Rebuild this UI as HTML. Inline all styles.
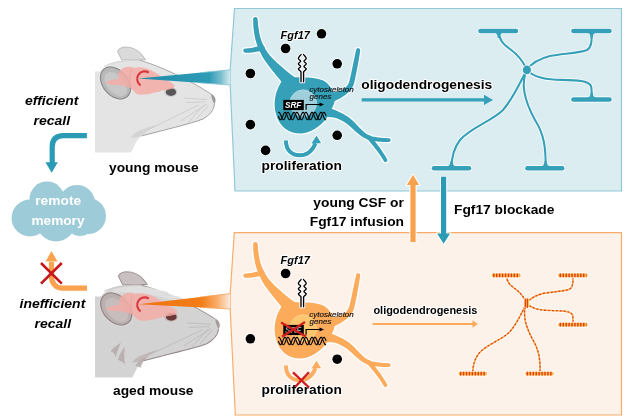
<!DOCTYPE html>
<html><head><meta charset="utf-8"><title>Fgf17 diagram</title>
<style>html,body{margin:0;padding:0;background:#fff;width:627px;height:416px;overflow:hidden}</style>
</head><body>
<svg width="627" height="416" viewBox="0 0 627 416" style="display:block;will-change:transform">
<defs>
<linearGradient id="gb" x1="138" y1="0" x2="230.5" y2="0" gradientUnits="userSpaceOnUse">
<stop offset="0" stop-color="#1d8ba8"/><stop offset="0.77" stop-color="#2e9cb7"/><stop offset="0.9" stop-color="#7cbfcf"/><stop offset="1" stop-color="#d8ecf1"/></linearGradient>
<linearGradient id="go" x1="138" y1="0" x2="231" y2="0" gradientUnits="userSpaceOnUse">
<stop offset="0" stop-color="#ef7410"/><stop offset="0.68" stop-color="#f37d16"/><stop offset="0.85" stop-color="#f8ac68"/><stop offset="1" stop-color="#fdf0e6"/></linearGradient>
</defs>
<rect width="627" height="416" fill="#fff"/>
<path d="M234.5,8.5 L621.5,8.5 L621.5,191 L235,191 L230.2,85 L230.2,69.8 Z" fill="#dbedf1" stroke="#91c8d6" stroke-width="1.2"/>
<path d="M234.3,232.7 L621.5,232.7 L621.5,415 L235.3,415 L230.2,309 L230.2,293.6 Z" fill="#fdf2ea" stroke="#f6ad6c" stroke-width="1.2"/>
<g transform="translate(95,0.0) scale(1.000,1) translate(-95,0)"><path d="M117.6,51.4 C119,48 122,47.2 125,47 C133,47.2 139,51 142,55 L145.4,59.6 L121.8,60 Z" fill="#dadada" stroke="#c0c0c0" stroke-width="1.1"/><path d="M95,71.6 L101.5,71.6 C103,67.5 109,63.5 118,61.2 C126,59.8 134,59.8 140,60.3 C160,66 190,80 211,94 C215,97 216,101 214.4,104 C214,110 210,115 203,119 C190,124 160,131 141.7,135.9 C139,137.5 137,140 134.1,146.5 L131,152.6 L95,152.6 Z" fill="#e4e4e4"/><path d="M104,66.5 C110,62.5 124,60 140,60.3" fill="none" stroke="#cfcfcf" stroke-width="0.9"/><path d="M140,60.3 C160,66 190,80 211,94" fill="none" stroke="#a2a2a2" stroke-width="0.9"/><path d="M214.4,104 C214,110 210,115 203,119 C190,124 160,131 141.7,135.9" fill="none" stroke="#a2a2a2" stroke-width="1"/><path d="M130.5,137.6 C134,133 138,131 142,129.6 C146,128 150,126.6 156,125.2 C150,128.5 146,131.5 141.7,135.9 C139.5,136.8 136,137.4 130.5,137.6 Z" fill="#d4d4d4"/><g stroke="#c4c4c4" stroke-width="0.7" fill="none"><path d="M206.8,104.0 L181.0,120.8"/><path d="M203.8,104.8 L188.6,122.3"/><path d="M199.2,104.8 L147.7,129.8"/><path d="M208.3,105.6 L196.2,119.2"/><path d="M205.3,101.8 L185.6,102.6"/><path d="M206.8,99.5 L184.0,98.0"/></g><path d="M211,93.8 C215,95.5 216.8,100 214.6,104.2 C212.6,101.5 211.5,98 211,93.8 Z" fill="#9a9a9a"/><ellipse cx="170.8" cy="92" rx="6.6" ry="4.9" fill="#cdcdcd"/><ellipse cx="171.0" cy="92.1" rx="5.2" ry="3.8" fill="#575757"/><g transform="rotate(50 115.5 83)"><ellipse cx="115.5" cy="83" rx="19.6" ry="14.2" fill="#eeeeee"/><ellipse cx="115.5" cy="83" rx="18" ry="12.6" fill="#b9b9b9" stroke="#8e8e8e" stroke-width="1.3"/><ellipse cx="116.5" cy="83.5" rx="14" ry="8.6" fill="#c8c8c8"/></g><path d="M106.4,82 C108,80.5 113,79.5 118.5,79 L118.5,73.5 C119.5,69.5 124,67 128.2,66.8 C131,66.8 133,67.5 134.3,68 C137,67.2 140,67.2 143,67.8 C150,69 156,72.9 161,76.5 C165,79 170,81 174.3,85 C174.5,87.5 173,88.5 171.9,88.7 C168,90 165,90.3 162.2,90.5 C160,91.5 158,92 156,92.3 C152,93.5 146,94.8 140.4,94.7 C137.5,94.5 136,93.5 135.5,92.9 C133.5,91 132,89.5 130.7,88 C128,87.5 126,86.6 124.6,86.2 C122,85.8 120.5,85.2 119.8,85 C117,85.2 114.5,85.1 112.5,85 C110,84.7 108,84 106.4,83.2 Z" fill="#f3aca6" opacity="0.85"/><path d="M131,68.5 C129,75 129.5,84 131.5,88.5" fill="none" stroke="#eaa09b" stroke-width="0.8" opacity="0.8"/></g>
<path d="M138.5,78.6 L230.2,69.8 L230.2,85.0 Z" fill="url(#gb)"/><path d="M200,72.70 L230.2,69.8 M200,82.89 L230.2,85.0" stroke="#86c3d2" stroke-width="1" opacity="0.8"/>
<path d="M148.8,72.6 A7,7 0 1 0 140.6,85.3" fill="none" stroke="#d8353a" stroke-width="2"/>
<g transform="translate(95,224.8) scale(1.035,1) translate(-95,0)"><path d="M117.6,51.4 C119,48 122,47.2 125,47 C133,47.2 139,51 142,55 L145.4,59.6 L121.8,60 Z" fill="#c9c1c1" stroke="#a49696" stroke-width="1.1"/><path d="M95,71.6 L101.5,71.6 C103,67.5 109,63.5 118,61.2 C126,59.8 134,59.8 140,60.3 C160,66 190,80 211,94 C215,97 216,101 214.4,104 C214,110 210,115 203,119 C190,124 160,131 141.7,135.9 C139,137.5 137,140 134.1,146.5 L131,152.6 L95,152.6 Z" fill="#d3d3d3"/><path d="M104,66.5 C110,62.5 124,60 140,60.3" fill="none" stroke="#c9c3c3" stroke-width="0.9"/><path d="M140,60.3 C160,66 190,80 211,94" fill="none" stroke="#938888" stroke-width="0.9"/><path d="M214.4,104 C214,110 210,115 203,119 C190,124 160,131 141.7,135.9" fill="none" stroke="#938888" stroke-width="1"/><path d="M130.5,137.6 C134,133 138,131 142,129.6 C146,128 150,126.6 156,125.2 C150,128.5 146,131.5 141.7,135.9 C139.5,136.8 136,137.4 130.5,137.6 Z" fill="#c2b9b9"/><g stroke="#b9b3b3" stroke-width="0.7" fill="none"><path d="M206.8,104.0 L181.0,120.8"/><path d="M203.8,104.8 L188.6,122.3"/><path d="M199.2,104.8 L147.7,129.8"/><path d="M208.3,105.6 L196.2,119.2"/><path d="M205.3,101.8 L185.6,102.6"/><path d="M206.8,99.5 L184.0,98.0"/></g><path d="M211,93.8 C215,95.5 216.8,100 214.6,104.2 C212.6,101.5 211.5,98 211,93.8 Z" fill="#a99a9a"/><ellipse cx="168.5" cy="92" rx="6.6" ry="4.9" fill="#c4b6b6"/><ellipse cx="168.7" cy="92.1" rx="5.2" ry="3.8" fill="#6a3838"/><path d="M112,64.5 C125,61 140,60.6 150,63.2 C165,67.5 180,74 192,80.5 L188,82.5 C175,77 160,72 145,69.5 C132,67.5 120,67.5 112,68 Z" fill="#e0e0e0" opacity="0.9"/><g fill="#b9adad" opacity="0.9"><path d="M110,352 C113,347 117,345 120,343 C118,348 116,352 115,358 C114,353 112,352 110,352 Z" transform="translate(0,-225)"/><path d="M117,360 C119,354 121,350 124,347 C123,353 123,358 124,365 C122,362 119,361 117,360 Z" transform="translate(0,-225)"/><path d="M134,366 C137,361 141,358 146,357 C142,361 140,364 139,368 Z" transform="translate(0,-225)"/><path d="M165,297 C170,296 176,297 182,300" fill="none" stroke="#e2e2e2" stroke-width="1.4" transform="translate(0,-225)"/><path d="M150,292 C156,290.5 161,291 166,293" fill="none" stroke="#e2e2e2" stroke-width="1.4" transform="translate(0,-225)"/></g><g transform="translate(0,1.2)"><g transform="rotate(50 115.5 83)"><ellipse cx="115.5" cy="83" rx="19.6" ry="14.2" fill="#dcdcdc"/><ellipse cx="115.5" cy="83" rx="18" ry="12.6" fill="#bbb0b0" stroke="#998888" stroke-width="1.3"/><ellipse cx="116.5" cy="83.5" rx="14" ry="8.6" fill="#c7bdbd"/></g><path d="M106.4,82 C108,80.5 113,79.5 118.5,79 L118.5,73.5 C119.5,69.5 124,67 128.2,66.8 C131,66.8 133,67.5 134.3,68 C137,67.2 140,67.2 143,67.8 C150,69 156,72.9 161,76.5 C165,79 170,81 174.3,85 C174.5,87.5 173,88.5 171.9,88.7 C168,90 165,90.3 162.2,90.5 C160,91.5 158,92 156,92.3 C152,93.5 146,94.8 140.4,94.7 C137.5,94.5 136,93.5 135.5,92.9 C133.5,91 132,89.5 130.7,88 C128,87.5 126,86.6 124.6,86.2 C122,85.8 120.5,85.2 119.8,85 C117,85.2 114.5,85.1 112.5,85 C110,84.7 108,84 106.4,83.2 Z" fill="#f3aca6" opacity="0.85"/><path d="M131,68.5 C129,75 129.5,84 131.5,88.5" fill="none" stroke="#eaa09b" stroke-width="0.8" opacity="0.8"/></g></g>
<path d="M139.0,304.2 L230.2,293.6 L230.2,309.0 Z" fill="url(#go)"/><path d="M200,297.11 L230.2,293.6 M200,307.41 L230.2,309.0" stroke="#f5a35a" stroke-width="1" opacity="0.8"/>
<path d="M148.8,298.6 A7,7 0 1 0 140.6,311.3" fill="none" stroke="#d8353a" stroke-width="2"/>
<g><g fill="#ffffff" stroke="#ffffff" stroke-width="2.4" stroke-linejoin="round"><path d="M253.10,19.33L253.13,19.99L253.15,20.86L253.17,21.92L253.20,23.11L253.25,24.38L253.31,25.70L253.40,27.03L253.52,28.30L253.66,29.54L253.82,30.81L254.00,32.11L254.20,33.43L254.43,34.75L254.67,36.08L254.94,37.39L255.24,38.67L255.55,39.90L255.88,41.11L256.23,42.30L256.61,43.48L257.00,44.66L257.43,45.83L257.88,47.01L258.36,48.20L258.87,49.41L259.40,50.62L259.97,51.84L260.56,53.07L261.18,54.30L261.82,55.51L262.49,56.72L263.19,57.91L263.93,59.10L264.70,60.26L265.49,61.40L266.29,62.52L267.09,63.60L267.88,64.66L268.66,65.69L269.41,66.70L270.18,67.71L270.96,68.73L271.73,69.72L272.50,70.70L273.27,71.65L274.02,72.59L274.75,73.50L275.47,74.40L276.19,75.29L276.89,76.14L277.57,76.96L278.24,77.76L278.91,78.56L279.57,79.37L280.24,80.20L280.94,81.07L281.67,82.00L282.43,82.97L283.21,83.98L284.00,85.00L284.79,86.02L285.56,87.03L286.32,88.01L287.05,88.95L287.79,89.89L288.56,90.87L289.33,91.85L290.08,92.80L290.78,93.68L291.41,94.48L291.94,95.15L292.34,95.66A8.00,8.00 0 0 0 303.66,84.34L303.15,83.94L302.48,83.41L301.68,82.78L300.80,82.08L299.85,81.33L298.87,80.56L297.89,79.79L296.95,79.05L296.01,78.32L295.03,77.56L294.02,76.79L293.00,76.00L291.98,75.21L290.97,74.43L290.00,73.67L289.06,72.93L288.17,72.22L287.31,71.53L286.49,70.88L285.70,70.24L284.91,69.60L284.13,68.96L283.34,68.30L282.53,67.60L281.67,66.86L280.80,66.10L279.93,65.33L279.06,64.55L278.19,63.76L277.32,62.96L276.45,62.14L275.59,61.30L274.70,60.42L273.80,59.53L272.90,58.63L272.02,57.73L271.16,56.83L270.34,55.92L269.55,55.01L268.81,54.09L268.09,53.13L267.38,52.13L266.69,51.10L266.03,50.05L265.39,48.99L264.77,47.93L264.19,46.86L263.64,45.80L263.13,44.75L262.65,43.71L262.21,42.68L261.79,41.64L261.41,40.59L261.04,39.53L260.69,38.44L260.36,37.33L260.06,36.19L259.77,35.01L259.51,33.79L259.27,32.55L259.05,31.31L258.84,30.07L258.66,28.86L258.48,27.70L258.33,26.54L258.19,25.32L258.08,24.07L257.97,22.84L257.89,21.69L257.81,20.64L257.75,19.75L257.70,19.07A2.30,2.30 0 0 0 253.10,19.33Z"/><path d="M245.53,52.85L245.96,52.83L246.52,52.81L247.21,52.80L247.99,52.77L248.81,52.74L249.66,52.70L250.49,52.65L251.28,52.58L252.03,52.50L252.76,52.41L253.48,52.31L254.20,52.21L254.91,52.09L255.62,51.98L256.32,51.86L257.02,51.75L257.78,51.62L258.58,51.47L259.41,51.32L260.22,51.18L260.98,51.03L261.67,50.91L262.23,50.80L262.66,50.72A2.80,2.80 0 0 0 261.34,45.28L260.92,45.40L260.36,45.58L259.70,45.78L258.97,46.00L258.20,46.23L257.42,46.46L256.67,46.67L255.98,46.85L255.31,47.03L254.64,47.19L253.97,47.35L253.31,47.51L252.66,47.65L252.01,47.79L251.36,47.91L250.72,48.02L250.04,48.11L249.29,48.20L248.51,48.28L247.72,48.35L246.97,48.42L246.29,48.47L245.71,48.52L245.27,48.55A2.15,2.15 0 0 0 245.53,52.85Z"/><path d="M356.14,49.71L355.95,50.58L355.70,51.72L355.41,53.07L355.08,54.59L354.72,56.21L354.36,57.89L354.00,59.59L353.64,61.24L353.29,62.94L352.93,64.76L352.55,66.65L352.17,68.56L351.78,70.46L351.40,72.28L351.03,73.99L350.66,75.55L350.32,76.99L350.00,78.33L349.71,79.56L349.42,80.69L349.12,81.71L348.81,82.64L348.45,83.48L348.05,84.27L347.60,85.01L347.10,85.70L346.56,86.36L345.98,86.98L345.35,87.58L344.68,88.15L343.96,88.69L343.23,89.20L342.51,89.64L341.77,90.02L341.00,90.36L340.18,90.67L339.34,90.96L338.45,91.23L337.54,91.48L336.63,91.71L335.73,91.90L334.82,92.05L333.88,92.17L332.91,92.28L331.91,92.37L330.90,92.46L329.87,92.54L328.88,92.63L327.87,92.71L326.79,92.77L325.66,92.84L324.53,92.90L323.44,92.96L322.46,93.01L321.60,93.05L320.94,93.09A6.00,6.00 0 0 0 323.06,104.91L323.64,104.73L324.42,104.49L325.38,104.21L326.47,103.89L327.64,103.53L328.83,103.16L330.02,102.77L331.12,102.37L332.14,101.98L333.15,101.57L334.18,101.15L335.22,100.70L336.27,100.23L337.32,99.74L338.36,99.22L339.37,98.69L340.32,98.16L341.26,97.63L342.20,97.07L343.14,96.49L344.07,95.87L345.00,95.22L345.90,94.53L346.77,93.80L347.58,93.07L348.37,92.34L349.17,91.56L349.96,90.73L350.72,89.84L351.45,88.88L352.13,87.85L352.75,86.73L353.28,85.56L353.71,84.38L354.08,83.18L354.39,81.96L354.67,80.72L354.95,79.43L355.23,78.09L355.54,76.65L355.89,75.05L356.25,73.29L356.62,71.43L356.99,69.51L357.36,67.58L357.71,65.68L358.05,63.86L358.36,62.16L358.65,60.49L358.94,58.77L359.22,57.06L359.49,55.41L359.73,53.88L359.94,52.52L360.12,51.37L360.26,50.49A2.10,2.10 0 0 0 356.14,49.71Z"/><path d="M316.46,116.83L317.74,116.86L319.47,116.89L321.50,116.91L323.73,116.94L326.01,116.99L328.23,117.07L330.23,117.19L331.90,117.35L333.30,117.56L334.55,117.80L335.67,118.07L336.68,118.37L337.62,118.70L338.54,119.07L339.48,119.47L340.46,119.92L341.45,120.40L342.41,120.92L343.35,121.48L344.27,122.07L345.20,122.70L346.13,123.37L347.08,124.07L348.03,124.79L348.99,125.56L349.99,126.41L351.03,127.33L352.08,128.29L353.13,129.26L354.18,130.23L355.20,131.15L356.18,131.99L357.07,132.74L357.89,133.43L358.69,134.09L359.48,134.72L360.25,135.32L361.04,135.90L361.84,136.46L362.66,136.99L363.44,137.47L364.20,137.92L364.97,138.34L365.76,138.75L366.58,139.12L367.44,139.47L368.37,139.80L369.36,140.10L370.43,140.38L371.56,140.63L372.72,140.85L373.91,141.04L375.12,141.22L376.34,141.37L377.56,141.51L378.77,141.64L380.07,141.75L381.48,141.84L382.93,141.91L384.36,141.96L385.72,142.01L386.94,142.04L387.95,142.07L388.70,142.10A1.90,1.90 0 0 0 388.90,138.30L388.13,138.25L387.10,138.19L385.90,138.12L384.56,138.04L383.16,137.94L381.77,137.83L380.43,137.70L379.23,137.56L378.07,137.40L376.90,137.24L375.75,137.05L374.61,136.86L373.52,136.64L372.49,136.41L371.52,136.16L370.64,135.90L369.85,135.61L369.13,135.32L368.48,135.01L367.87,134.68L367.27,134.32L366.66,133.93L366.02,133.49L365.34,133.01L364.69,132.52L364.06,132.00L363.42,131.45L362.77,130.86L362.10,130.22L361.39,129.53L360.63,128.79L359.82,128.01L358.99,127.17L358.10,126.24L357.16,125.22L356.17,124.16L355.15,123.08L354.10,122.01L353.04,120.97L351.97,120.01L350.94,119.14L349.92,118.33L348.89,117.56L347.85,116.81L346.80,116.10L345.73,115.41L344.64,114.73L343.54,114.08L342.45,113.47L341.38,112.92L340.30,112.40L339.20,111.89L338.05,111.39L336.84,110.86L335.54,110.29L334.10,109.65L332.39,108.89L330.42,108.01L328.30,107.08L326.15,106.12L324.08,105.20L322.21,104.37L320.66,103.68L319.54,103.17A7.00,7.00 0 0 0 316.46,116.83Z"/><path d="M367.30,138.89L367.81,139.51L368.51,140.34L369.33,141.32L370.24,142.40L371.19,143.54L372.14,144.68L373.04,145.78L373.84,146.79L374.58,147.73L375.31,148.67L376.02,149.59L376.72,150.51L377.40,151.42L378.06,152.32L378.71,153.23L379.35,154.12L379.99,155.06L380.66,156.07L381.33,157.11L381.99,158.14L382.61,159.12L383.16,159.99L383.63,160.74L383.99,161.30A1.90,1.90 0 0 0 387.21,159.30L386.88,158.74L386.43,157.99L385.90,157.10L385.30,156.10L384.65,155.03L383.98,153.95L383.31,152.88L382.65,151.88L382.01,150.93L381.36,149.98L380.70,149.03L380.02,148.08L379.33,147.12L378.62,146.16L377.90,145.19L377.16,144.21L376.35,143.16L375.45,142.01L374.51,140.83L373.57,139.66L372.68,138.56L371.87,137.56L371.20,136.73L370.70,136.11A2.20,2.20 0 0 0 367.30,138.89Z"/><path d="M283,79 C288,77 296,77.3 305,77.4 C314,77.5 322,78.5 327,83 C331,87 333,91 335,97 C335,101 334,105 331,110 C328,120 316,131.5 302,133.6 C288,134 279,126 276,114 C273,104 275,93 280,84 Z"/></g><g fill="#35a0b8"><path d="M253.10,19.33L253.13,19.99L253.15,20.86L253.17,21.92L253.20,23.11L253.25,24.38L253.31,25.70L253.40,27.03L253.52,28.30L253.66,29.54L253.82,30.81L254.00,32.11L254.20,33.43L254.43,34.75L254.67,36.08L254.94,37.39L255.24,38.67L255.55,39.90L255.88,41.11L256.23,42.30L256.61,43.48L257.00,44.66L257.43,45.83L257.88,47.01L258.36,48.20L258.87,49.41L259.40,50.62L259.97,51.84L260.56,53.07L261.18,54.30L261.82,55.51L262.49,56.72L263.19,57.91L263.93,59.10L264.70,60.26L265.49,61.40L266.29,62.52L267.09,63.60L267.88,64.66L268.66,65.69L269.41,66.70L270.18,67.71L270.96,68.73L271.73,69.72L272.50,70.70L273.27,71.65L274.02,72.59L274.75,73.50L275.47,74.40L276.19,75.29L276.89,76.14L277.57,76.96L278.24,77.76L278.91,78.56L279.57,79.37L280.24,80.20L280.94,81.07L281.67,82.00L282.43,82.97L283.21,83.98L284.00,85.00L284.79,86.02L285.56,87.03L286.32,88.01L287.05,88.95L287.79,89.89L288.56,90.87L289.33,91.85L290.08,92.80L290.78,93.68L291.41,94.48L291.94,95.15L292.34,95.66A8.00,8.00 0 0 0 303.66,84.34L303.15,83.94L302.48,83.41L301.68,82.78L300.80,82.08L299.85,81.33L298.87,80.56L297.89,79.79L296.95,79.05L296.01,78.32L295.03,77.56L294.02,76.79L293.00,76.00L291.98,75.21L290.97,74.43L290.00,73.67L289.06,72.93L288.17,72.22L287.31,71.53L286.49,70.88L285.70,70.24L284.91,69.60L284.13,68.96L283.34,68.30L282.53,67.60L281.67,66.86L280.80,66.10L279.93,65.33L279.06,64.55L278.19,63.76L277.32,62.96L276.45,62.14L275.59,61.30L274.70,60.42L273.80,59.53L272.90,58.63L272.02,57.73L271.16,56.83L270.34,55.92L269.55,55.01L268.81,54.09L268.09,53.13L267.38,52.13L266.69,51.10L266.03,50.05L265.39,48.99L264.77,47.93L264.19,46.86L263.64,45.80L263.13,44.75L262.65,43.71L262.21,42.68L261.79,41.64L261.41,40.59L261.04,39.53L260.69,38.44L260.36,37.33L260.06,36.19L259.77,35.01L259.51,33.79L259.27,32.55L259.05,31.31L258.84,30.07L258.66,28.86L258.48,27.70L258.33,26.54L258.19,25.32L258.08,24.07L257.97,22.84L257.89,21.69L257.81,20.64L257.75,19.75L257.70,19.07A2.30,2.30 0 0 0 253.10,19.33Z"/><path d="M245.53,52.85L245.96,52.83L246.52,52.81L247.21,52.80L247.99,52.77L248.81,52.74L249.66,52.70L250.49,52.65L251.28,52.58L252.03,52.50L252.76,52.41L253.48,52.31L254.20,52.21L254.91,52.09L255.62,51.98L256.32,51.86L257.02,51.75L257.78,51.62L258.58,51.47L259.41,51.32L260.22,51.18L260.98,51.03L261.67,50.91L262.23,50.80L262.66,50.72A2.80,2.80 0 0 0 261.34,45.28L260.92,45.40L260.36,45.58L259.70,45.78L258.97,46.00L258.20,46.23L257.42,46.46L256.67,46.67L255.98,46.85L255.31,47.03L254.64,47.19L253.97,47.35L253.31,47.51L252.66,47.65L252.01,47.79L251.36,47.91L250.72,48.02L250.04,48.11L249.29,48.20L248.51,48.28L247.72,48.35L246.97,48.42L246.29,48.47L245.71,48.52L245.27,48.55A2.15,2.15 0 0 0 245.53,52.85Z"/><path d="M356.14,49.71L355.95,50.58L355.70,51.72L355.41,53.07L355.08,54.59L354.72,56.21L354.36,57.89L354.00,59.59L353.64,61.24L353.29,62.94L352.93,64.76L352.55,66.65L352.17,68.56L351.78,70.46L351.40,72.28L351.03,73.99L350.66,75.55L350.32,76.99L350.00,78.33L349.71,79.56L349.42,80.69L349.12,81.71L348.81,82.64L348.45,83.48L348.05,84.27L347.60,85.01L347.10,85.70L346.56,86.36L345.98,86.98L345.35,87.58L344.68,88.15L343.96,88.69L343.23,89.20L342.51,89.64L341.77,90.02L341.00,90.36L340.18,90.67L339.34,90.96L338.45,91.23L337.54,91.48L336.63,91.71L335.73,91.90L334.82,92.05L333.88,92.17L332.91,92.28L331.91,92.37L330.90,92.46L329.87,92.54L328.88,92.63L327.87,92.71L326.79,92.77L325.66,92.84L324.53,92.90L323.44,92.96L322.46,93.01L321.60,93.05L320.94,93.09A6.00,6.00 0 0 0 323.06,104.91L323.64,104.73L324.42,104.49L325.38,104.21L326.47,103.89L327.64,103.53L328.83,103.16L330.02,102.77L331.12,102.37L332.14,101.98L333.15,101.57L334.18,101.15L335.22,100.70L336.27,100.23L337.32,99.74L338.36,99.22L339.37,98.69L340.32,98.16L341.26,97.63L342.20,97.07L343.14,96.49L344.07,95.87L345.00,95.22L345.90,94.53L346.77,93.80L347.58,93.07L348.37,92.34L349.17,91.56L349.96,90.73L350.72,89.84L351.45,88.88L352.13,87.85L352.75,86.73L353.28,85.56L353.71,84.38L354.08,83.18L354.39,81.96L354.67,80.72L354.95,79.43L355.23,78.09L355.54,76.65L355.89,75.05L356.25,73.29L356.62,71.43L356.99,69.51L357.36,67.58L357.71,65.68L358.05,63.86L358.36,62.16L358.65,60.49L358.94,58.77L359.22,57.06L359.49,55.41L359.73,53.88L359.94,52.52L360.12,51.37L360.26,50.49A2.10,2.10 0 0 0 356.14,49.71Z"/><path d="M316.46,116.83L317.74,116.86L319.47,116.89L321.50,116.91L323.73,116.94L326.01,116.99L328.23,117.07L330.23,117.19L331.90,117.35L333.30,117.56L334.55,117.80L335.67,118.07L336.68,118.37L337.62,118.70L338.54,119.07L339.48,119.47L340.46,119.92L341.45,120.40L342.41,120.92L343.35,121.48L344.27,122.07L345.20,122.70L346.13,123.37L347.08,124.07L348.03,124.79L348.99,125.56L349.99,126.41L351.03,127.33L352.08,128.29L353.13,129.26L354.18,130.23L355.20,131.15L356.18,131.99L357.07,132.74L357.89,133.43L358.69,134.09L359.48,134.72L360.25,135.32L361.04,135.90L361.84,136.46L362.66,136.99L363.44,137.47L364.20,137.92L364.97,138.34L365.76,138.75L366.58,139.12L367.44,139.47L368.37,139.80L369.36,140.10L370.43,140.38L371.56,140.63L372.72,140.85L373.91,141.04L375.12,141.22L376.34,141.37L377.56,141.51L378.77,141.64L380.07,141.75L381.48,141.84L382.93,141.91L384.36,141.96L385.72,142.01L386.94,142.04L387.95,142.07L388.70,142.10A1.90,1.90 0 0 0 388.90,138.30L388.13,138.25L387.10,138.19L385.90,138.12L384.56,138.04L383.16,137.94L381.77,137.83L380.43,137.70L379.23,137.56L378.07,137.40L376.90,137.24L375.75,137.05L374.61,136.86L373.52,136.64L372.49,136.41L371.52,136.16L370.64,135.90L369.85,135.61L369.13,135.32L368.48,135.01L367.87,134.68L367.27,134.32L366.66,133.93L366.02,133.49L365.34,133.01L364.69,132.52L364.06,132.00L363.42,131.45L362.77,130.86L362.10,130.22L361.39,129.53L360.63,128.79L359.82,128.01L358.99,127.17L358.10,126.24L357.16,125.22L356.17,124.16L355.15,123.08L354.10,122.01L353.04,120.97L351.97,120.01L350.94,119.14L349.92,118.33L348.89,117.56L347.85,116.81L346.80,116.10L345.73,115.41L344.64,114.73L343.54,114.08L342.45,113.47L341.38,112.92L340.30,112.40L339.20,111.89L338.05,111.39L336.84,110.86L335.54,110.29L334.10,109.65L332.39,108.89L330.42,108.01L328.30,107.08L326.15,106.12L324.08,105.20L322.21,104.37L320.66,103.68L319.54,103.17A7.00,7.00 0 0 0 316.46,116.83Z"/><path d="M367.30,138.89L367.81,139.51L368.51,140.34L369.33,141.32L370.24,142.40L371.19,143.54L372.14,144.68L373.04,145.78L373.84,146.79L374.58,147.73L375.31,148.67L376.02,149.59L376.72,150.51L377.40,151.42L378.06,152.32L378.71,153.23L379.35,154.12L379.99,155.06L380.66,156.07L381.33,157.11L381.99,158.14L382.61,159.12L383.16,159.99L383.63,160.74L383.99,161.30A1.90,1.90 0 0 0 387.21,159.30L386.88,158.74L386.43,157.99L385.90,157.10L385.30,156.10L384.65,155.03L383.98,153.95L383.31,152.88L382.65,151.88L382.01,150.93L381.36,149.98L380.70,149.03L380.02,148.08L379.33,147.12L378.62,146.16L377.90,145.19L377.16,144.21L376.35,143.16L375.45,142.01L374.51,140.83L373.57,139.66L372.68,138.56L371.87,137.56L371.20,136.73L370.70,136.11A2.20,2.20 0 0 0 367.30,138.89Z"/><path d="M283,79 C288,77 296,77.3 305,77.4 C314,77.5 322,78.5 327,83 C331,87 333,91 335,97 C335,101 334,105 331,110 C328,120 316,131.5 302,133.6 C288,134 279,126 276,114 C273,104 275,93 280,84 Z"/></g><circle cx="303.2" cy="103.2" r="13.4" fill="#9fcfdb" stroke="#c4e4ec" stroke-width="0.9" stroke-opacity="0.6"/></g>
<g fill="none" stroke-linecap="round" stroke-linejoin="round"><path d="M301.10,54.40 L300.75,54.85 L300.22,55.48 L299.61,56.22 L299.04,57.01 L298.60,57.76 L298.40,58.40 L298.53,58.94 L298.93,59.43 L299.47,59.89 L300.01,60.33 L300.43,60.76 L300.60,61.20 L300.44,61.64 L300.03,62.08 L299.50,62.51 L298.97,62.93 L298.56,63.36 L298.40,63.80 L298.56,64.25 L298.97,64.70 L299.50,65.16 L300.03,65.61 L300.44,66.06 L300.60,66.50 L300.43,66.93 L300.02,67.34 L299.49,67.76 L298.96,68.17 L298.55,68.58 L298.40,69.00 L298.56,69.43 L298.94,69.87 L299.45,70.32 L299.99,70.76 L300.47,71.19 L300.80,71.60 L300.96,71.92 L301.04,72.15 L301.05,72.36 L301.03,72.65 L301.00,73.10 L301.00,73.80 L301.01,74.89 L301.01,76.33 L301.01,77.94 L301.01,79.51 L301.00,80.86 L301.00,81.80" stroke="#fff" stroke-width="3.3"/><path d="M303.50,54.40 L303.85,54.85 L304.38,55.48 L304.99,56.22 L305.56,57.01 L306.00,57.76 L306.20,58.40 L306.07,58.94 L305.67,59.43 L305.13,59.89 L304.59,60.33 L304.17,60.76 L304.00,61.20 L304.16,61.64 L304.57,62.08 L305.10,62.51 L305.63,62.93 L306.04,63.36 L306.20,63.80 L306.04,64.25 L305.63,64.70 L305.10,65.16 L304.57,65.61 L304.16,66.06 L304.00,66.50 L304.17,66.93 L304.58,67.34 L305.11,67.76 L305.64,68.17 L306.05,68.58 L306.20,69.00 L306.04,69.43 L305.66,69.87 L305.15,70.32 L304.61,70.76 L304.13,71.19 L303.80,71.60 L303.64,71.92 L303.56,72.15 L303.55,72.36 L303.57,72.65 L303.60,73.10 L303.60,73.80 L303.59,74.89 L303.59,76.33 L303.59,77.94 L303.59,79.51 L303.60,80.86 L303.60,81.80" stroke="#fff" stroke-width="3.3"/><path d="M301.10,54.40 L300.75,54.85 L300.22,55.48 L299.61,56.22 L299.04,57.01 L298.60,57.76 L298.40,58.40 L298.53,58.94 L298.93,59.43 L299.47,59.89 L300.01,60.33 L300.43,60.76 L300.60,61.20 L300.44,61.64 L300.03,62.08 L299.50,62.51 L298.97,62.93 L298.56,63.36 L298.40,63.80 L298.56,64.25 L298.97,64.70 L299.50,65.16 L300.03,65.61 L300.44,66.06 L300.60,66.50 L300.43,66.93 L300.02,67.34 L299.49,67.76 L298.96,68.17 L298.55,68.58 L298.40,69.00 L298.56,69.43 L298.94,69.87 L299.45,70.32 L299.99,70.76 L300.47,71.19 L300.80,71.60 L300.96,71.92 L301.04,72.15 L301.05,72.36 L301.03,72.65 L301.00,73.10 L301.00,73.80 L301.01,74.89 L301.01,76.33 L301.01,77.94 L301.01,79.51 L301.00,80.86 L301.00,81.80" stroke="#000" stroke-width="1.35"/><path d="M303.50,54.40 L303.85,54.85 L304.38,55.48 L304.99,56.22 L305.56,57.01 L306.00,57.76 L306.20,58.40 L306.07,58.94 L305.67,59.43 L305.13,59.89 L304.59,60.33 L304.17,60.76 L304.00,61.20 L304.16,61.64 L304.57,62.08 L305.10,62.51 L305.63,62.93 L306.04,63.36 L306.20,63.80 L306.04,64.25 L305.63,64.70 L305.10,65.16 L304.57,65.61 L304.16,66.06 L304.00,66.50 L304.17,66.93 L304.58,67.34 L305.11,67.76 L305.64,68.17 L306.05,68.58 L306.20,69.00 L306.04,69.43 L305.66,69.87 L305.15,70.32 L304.61,70.76 L304.13,71.19 L303.80,71.60 L303.64,71.92 L303.56,72.15 L303.55,72.36 L303.57,72.65 L303.60,73.10 L303.60,73.80 L303.59,74.89 L303.59,76.33 L303.59,77.94 L303.59,79.51 L303.60,80.86 L303.60,81.80" stroke="#000" stroke-width="1.35"/></g>
<rect x="283.3" y="99.9" width="20.5" height="10.2" fill="#000"/><text x="285" y="108" font-family="Liberation Sans" font-size="8.2" font-weight="bold" font-style="italic" fill="#fff">SRF</text><path d="M306.1,109.8 V104.5 H320.5" fill="none" stroke="#000" stroke-width="1.2"/><path d="M319.5,102.4 L324,104.5 L319.5,106.6 Z" fill="#000"/><g fill="none" stroke="#000" stroke-width="1.1"><path d="M278.30,116.00 L278.55,116.64 L278.80,117.27 L279.05,117.85 L279.30,118.38 L279.55,118.83 L279.80,119.20 L280.05,119.48 L280.30,119.64 L280.55,119.70 L280.80,119.64 L281.05,119.48 L281.30,119.20 L281.55,118.83 L281.80,118.38 L282.05,117.85 L282.30,117.27 L282.55,116.64 L282.80,116.00 L283.05,115.36 L283.30,114.73 L283.55,114.15 L283.80,113.62 L284.05,113.17 L284.30,112.80 L284.55,112.52 L284.80,112.36 L285.05,112.30 L285.30,112.36 L285.55,112.52 L285.80,112.80 L286.05,113.17 L286.30,113.62 L286.55,114.15 L286.80,114.73 L287.05,115.36 L287.30,116.00 L287.55,116.64 L287.80,117.27 L288.05,117.85 L288.30,118.38 L288.55,118.83 L288.80,119.20 L289.05,119.48 L289.30,119.64 L289.55,119.70 L289.80,119.64 L290.05,119.48 L290.30,119.20 L290.55,118.83 L290.80,118.38 L291.05,117.85 L291.30,117.27 L291.55,116.64 L291.80,116.00 L292.05,115.36 L292.30,114.73 L292.55,114.15 L292.80,113.62 L293.05,113.17 L293.30,112.80 L293.55,112.52 L293.80,112.36 L294.05,112.30 L294.30,112.36 L294.55,112.52 L294.80,112.80 L295.05,113.17 L295.30,113.62 L295.55,114.15 L295.80,114.73 L296.05,115.36 L296.30,116.00 L296.55,116.64 L296.80,117.27 L297.05,117.85 L297.30,118.38 L297.55,118.83 L297.80,119.20 L298.05,119.48 L298.30,119.64 L298.55,119.70 L298.80,119.64 L299.05,119.48 L299.30,119.20 L299.55,118.83 L299.80,118.38 L300.05,117.85 L300.30,117.27 L300.55,116.64 L300.80,116.00 L301.05,115.36 L301.30,114.73 L301.55,114.15 L301.80,113.62 L302.05,113.17 L302.30,112.80 L302.55,112.52 L302.80,112.36 L303.05,112.30 L303.30,112.36 L303.55,112.52 L303.80,112.80 L304.05,113.17 L304.30,113.62 L304.55,114.15 L304.80,114.73 L305.05,115.36 L305.30,116.00 L305.55,116.64 L305.80,117.27 L306.05,117.85 L306.30,118.38 L306.55,118.83 L306.80,119.20 L307.05,119.48 L307.30,119.64 L307.55,119.70 L307.80,119.64 L308.05,119.48 L308.30,119.20 L308.55,118.83 L308.80,118.38 L309.05,117.85 L309.30,117.27 L309.55,116.64 L309.80,116.00 L310.05,115.36 L310.30,114.73 L310.55,114.15 L310.80,113.62 L311.05,113.17 L311.30,112.80 L311.55,112.52 L311.80,112.36 L312.05,112.30 L312.30,112.36 L312.55,112.52 L312.80,112.80 L313.05,113.17 L313.30,113.62 L313.55,114.15 L313.80,114.73 L314.05,115.36 L314.30,116.00 L314.55,116.64 L314.80,117.27 L315.05,117.85 L315.30,118.38 L315.55,118.83 L315.80,119.20 L316.05,119.48 L316.30,119.64 L316.55,119.70 L316.80,119.64 L317.05,119.48 L317.30,119.20 L317.55,118.83 L317.80,118.38 L318.05,117.85 L318.30,117.27 L318.55,116.64 L318.80,116.00 L319.05,115.36 L319.30,114.73 L319.55,114.15 L319.80,113.62 L320.05,113.17 L320.30,112.80 L320.55,112.52 L320.80,112.36 L321.05,112.30 L321.30,112.36 L321.55,112.52 L321.80,112.80 L322.05,113.17 L322.30,113.62 L322.55,114.15 L322.80,114.73 L323.05,115.36 L323.30,116.00 L323.55,116.64 L323.80,117.27 L324.05,117.85 L324.30,118.38 L324.55,118.83 L324.80,119.20 L325.05,119.48 L325.30,119.64 L325.55,119.70 L325.80,119.64 L326.05,119.48"/><path d="M278.30,112.64 L278.55,112.42 L278.80,112.31 L279.05,112.32 L279.30,112.43 L279.55,112.66 L279.80,112.98 L280.05,113.40 L280.30,113.90 L280.55,114.46 L280.80,115.07 L281.05,115.70 L281.30,116.35 L281.55,116.98 L281.80,117.59 L282.05,118.14 L282.30,118.63 L282.55,119.05 L282.80,119.36 L283.05,119.58 L283.30,119.69 L283.55,119.68 L283.80,119.57 L284.05,119.34 L284.30,119.02 L284.55,118.60 L284.80,118.10 L285.05,117.54 L285.30,116.93 L285.55,116.30 L285.80,115.65 L286.05,115.02 L286.30,114.41 L286.55,113.86 L286.80,113.37 L287.05,112.95 L287.30,112.64 L287.55,112.42 L287.80,112.31 L288.05,112.32 L288.30,112.43 L288.55,112.66 L288.80,112.98 L289.05,113.40 L289.30,113.90 L289.55,114.46 L289.80,115.07 L290.05,115.70 L290.30,116.35 L290.55,116.98 L290.80,117.59 L291.05,118.14 L291.30,118.63 L291.55,119.05 L291.80,119.36 L292.05,119.58 L292.30,119.69 L292.55,119.68 L292.80,119.57 L293.05,119.34 L293.30,119.02 L293.55,118.60 L293.80,118.10 L294.05,117.54 L294.30,116.93 L294.55,116.30 L294.80,115.65 L295.05,115.02 L295.30,114.41 L295.55,113.86 L295.80,113.37 L296.05,112.95 L296.30,112.64 L296.55,112.42 L296.80,112.31 L297.05,112.32 L297.30,112.43 L297.55,112.66 L297.80,112.98 L298.05,113.40 L298.30,113.90 L298.55,114.46 L298.80,115.07 L299.05,115.70 L299.30,116.35 L299.55,116.98 L299.80,117.59 L300.05,118.14 L300.30,118.63 L300.55,119.05 L300.80,119.36 L301.05,119.58 L301.30,119.69 L301.55,119.68 L301.80,119.57 L302.05,119.34 L302.30,119.02 L302.55,118.60 L302.80,118.10 L303.05,117.54 L303.30,116.93 L303.55,116.30 L303.80,115.65 L304.05,115.02 L304.30,114.41 L304.55,113.86 L304.80,113.37 L305.05,112.95 L305.30,112.64 L305.55,112.42 L305.80,112.31 L306.05,112.32 L306.30,112.43 L306.55,112.66 L306.80,112.98 L307.05,113.40 L307.30,113.90 L307.55,114.46 L307.80,115.07 L308.05,115.70 L308.30,116.35 L308.55,116.98 L308.80,117.59 L309.05,118.14 L309.30,118.63 L309.55,119.05 L309.80,119.36 L310.05,119.58 L310.30,119.69 L310.55,119.68 L310.80,119.57 L311.05,119.34 L311.30,119.02 L311.55,118.60 L311.80,118.10 L312.05,117.54 L312.30,116.93 L312.55,116.30 L312.80,115.65 L313.05,115.02 L313.30,114.41 L313.55,113.86 L313.80,113.37 L314.05,112.95 L314.30,112.64 L314.55,112.42 L314.80,112.31 L315.05,112.32 L315.30,112.43 L315.55,112.66 L315.80,112.98 L316.05,113.40 L316.30,113.90 L316.55,114.46 L316.80,115.07 L317.05,115.70 L317.30,116.35 L317.55,116.98 L317.80,117.59 L318.05,118.14 L318.30,118.63 L318.55,119.05 L318.80,119.36 L319.05,119.58 L319.30,119.69 L319.55,119.68 L319.80,119.57 L320.05,119.34 L320.30,119.02 L320.55,118.60 L320.80,118.10 L321.05,117.54 L321.30,116.93 L321.55,116.30 L321.80,115.65 L322.05,115.02 L322.30,114.41 L322.55,113.86 L322.80,113.37 L323.05,112.95 L323.30,112.64 L323.55,112.42 L323.80,112.31 L324.05,112.32 L324.30,112.43 L324.55,112.66 L324.80,112.98 L325.05,113.40 L325.30,113.90 L325.55,114.46 L325.80,115.07 L326.05,115.70"/></g><text x="309.3" y="92.1" font-family="Liberation Sans" font-size="8" font-style="italic" fill="#111" stroke="#111" stroke-width="0.15">cytoskeleton</text><text x="309.6" y="99.4" font-family="Liberation Sans" font-size="8" font-style="italic" fill="#111" stroke="#111" stroke-width="0.15">genes</text>
<circle cx="321.5" cy="33.8" r="5.6" fill="#fff"/><circle cx="321.5" cy="33.8" r="4.8" fill="#000"/><circle cx="285.6" cy="48.5" r="5.6" fill="#fff"/><circle cx="285.6" cy="48.5" r="4.8" fill="#000"/><circle cx="337.2" cy="63.8" r="5.6" fill="#fff"/><circle cx="337.2" cy="63.8" r="4.8" fill="#000"/><circle cx="250.4" cy="73.5" r="5.6" fill="#fff"/><circle cx="250.4" cy="73.5" r="4.8" fill="#000"/><circle cx="250.4" cy="124.6" r="5.6" fill="#fff"/><circle cx="250.4" cy="124.6" r="4.8" fill="#000"/><circle cx="265.6" cy="150.4" r="5.6" fill="#fff"/><circle cx="265.6" cy="150.4" r="4.8" fill="#000"/><circle cx="337.2" cy="135.3" r="5.6" fill="#fff"/><circle cx="337.2" cy="135.3" r="4.8" fill="#000"/>
<text transform="translate(280.60,38.80) scale(1.000,1)" font-family="Liberation Sans" font-size="11.00" font-weight="bold" font-style="italic" fill="#000" stroke="#fff" stroke-width="1.8" stroke-linejoin="round" paint-order="stroke">Fgf17</text>
<path d="M285.9,140.6 C285.9,150.5 292,155.3 299.5,155.3 C307.5,155.3 312.5,150.5 315.6,143.2" fill="none" stroke="#fff" stroke-width="5.8"/><path d="M311.4,143.6 L316.5,135.6 L321.2,143.2 Z" fill="#fff" stroke="#fff" stroke-width="1.8" stroke-linejoin="round"/><path d="M285.9,140.6 C285.9,150.5 292,155.3 299.5,155.3 C307.5,155.3 312.5,150.5 315.6,143.2" fill="none" stroke="#35a0b8" stroke-width="4.0"/><path d="M311.4,143.6 L316.5,135.6 L321.2,143.2 Z" fill="#35a0b8"/>
<text transform="translate(261.50,170.40) scale(1.045,1)" font-family="Liberation Sans" font-size="13.20" font-weight="bold" fill="#000" stroke="#fff" stroke-width="1.8" stroke-linejoin="round" paint-order="stroke">proliferation</text>
<text transform="translate(361.20,89.30) scale(1.045,1)" font-family="Liberation Sans" font-size="13.20" font-weight="bold" fill="#000" stroke="#fff" stroke-width="1.8" stroke-linejoin="round" paint-order="stroke">oligodendrogenesis</text>
<path d="M361.7,99.9 H486" stroke="#35a0b8" stroke-width="3.4"/><path d="M484,94.8 L493,99.9 L484,105 Z" fill="#35a0b8"/>
<g><g fill="none" stroke="#fff" stroke-width="3.6" stroke-linecap="round"><path d="M498.8,31 C499,40 503,44 510,49 C517,54 522,59 526.9,69.7"/><path d="M526.9,69.7 C531,64 538,59 550,56 C565,53.5 580,53 587,50 C592,47 591.7,40 591.7,31"/><path d="M526.9,69.7 C531,75 540,79 556,79.8 C575,80.3 588,80 591,86 C592,90 591.7,95 591.7,99.6"/><path d="M526.9,69.7 C521,80 515,96 503,110 C492,121 470,128 460,140 C453,149 451.5,158 451.5,168.2"/><path d="M526.9,69.7 C521,82 524,100 535,120 C544,134 546,148 545.6,168.2"/></g><g fill="none" stroke="#35a0b8" stroke-width="2.1" stroke-linecap="round"><path d="M498.8,31 C499,40 503,44 510,49 C517,54 522,59 526.9,69.7"/><path d="M526.9,69.7 C531,64 538,59 550,56 C565,53.5 580,53 587,50 C592,47 591.7,40 591.7,31"/><path d="M526.9,69.7 C531,75 540,79 556,79.8 C575,80.3 588,80 591,86 C592,90 591.7,95 591.7,99.6"/><path d="M526.9,69.7 C521,80 515,96 503,110 C492,121 470,128 460,140 C453,149 451.5,158 451.5,168.2"/><path d="M526.9,69.7 C521,82 524,100 535,120 C544,134 546,148 545.6,168.2"/></g><path d="M480.4,30.9 H516.0" stroke="#fff" stroke-width="6" stroke-linecap="round"/><path d="M573.4,30.9 H609.5" stroke="#fff" stroke-width="6" stroke-linecap="round"/><path d="M573.4,99.6 H609.5" stroke="#fff" stroke-width="6" stroke-linecap="round"/><path d="M434.0,168.2 H469.0" stroke="#fff" stroke-width="6" stroke-linecap="round"/><path d="M527.4,168.2 H562.2" stroke="#fff" stroke-width="6" stroke-linecap="round"/><path d="M480.4,30.9 H516.0" stroke="#35a0b8" stroke-width="4.5" stroke-linecap="round"/><path d="M573.4,30.9 H609.5" stroke="#35a0b8" stroke-width="4.5" stroke-linecap="round"/><path d="M573.4,99.6 H609.5" stroke="#35a0b8" stroke-width="4.5" stroke-linecap="round"/><path d="M434.0,168.2 H469.0" stroke="#35a0b8" stroke-width="4.5" stroke-linecap="round"/><path d="M527.4,168.2 H562.2" stroke="#35a0b8" stroke-width="4.5" stroke-linecap="round"/><path d="M493.80,32.85 Q497.75,32.85 497.75,38.05 L499.85,38.05 Q499.85,32.85 503.80,32.85 Z" fill="#35a0b8"/><path d="M586.70,32.85 Q590.65,32.85 590.65,38.05 L592.75,38.05 Q592.75,32.85 596.70,32.85 Z" fill="#35a0b8"/><path d="M586.70,97.65 Q590.65,97.65 590.65,92.45 L592.75,92.45 Q592.75,97.65 596.70,97.65 Z" fill="#35a0b8"/><path d="M446.50,166.25 Q450.45,166.25 450.45,161.05 L452.55,161.05 Q452.55,166.25 456.50,166.25 Z" fill="#35a0b8"/><path d="M540.60,166.25 Q544.55,166.25 544.55,161.05 L546.65,161.05 Q546.65,166.25 550.60,166.25 Z" fill="#35a0b8"/><ellipse cx="526.9" cy="69.9" rx="4.9" ry="5" fill="#fff"/><ellipse cx="526.9" cy="69.9" rx="4.1" ry="4.3" fill="#35a0b8"/></g>
<g transform="translate(0,225)">
<g><g fill="#ffffff" stroke="#ffffff" stroke-width="2.4" stroke-linejoin="round"><path d="M253.10,19.33L253.13,19.99L253.15,20.86L253.17,21.92L253.20,23.11L253.25,24.38L253.31,25.70L253.40,27.03L253.52,28.30L253.66,29.54L253.82,30.81L254.00,32.11L254.20,33.43L254.43,34.75L254.67,36.08L254.94,37.39L255.24,38.67L255.55,39.90L255.88,41.11L256.23,42.30L256.61,43.48L257.00,44.66L257.43,45.83L257.88,47.01L258.36,48.20L258.87,49.41L259.40,50.62L259.97,51.84L260.56,53.07L261.18,54.30L261.82,55.51L262.49,56.72L263.19,57.91L263.93,59.10L264.70,60.26L265.49,61.40L266.29,62.52L267.09,63.60L267.88,64.66L268.66,65.69L269.41,66.70L270.18,67.71L270.96,68.73L271.73,69.72L272.50,70.70L273.27,71.65L274.02,72.59L274.75,73.50L275.47,74.40L276.19,75.29L276.89,76.14L277.57,76.96L278.24,77.76L278.91,78.56L279.57,79.37L280.24,80.20L280.94,81.07L281.67,82.00L282.43,82.97L283.21,83.98L284.00,85.00L284.79,86.02L285.56,87.03L286.32,88.01L287.05,88.95L287.79,89.89L288.56,90.87L289.33,91.85L290.08,92.80L290.78,93.68L291.41,94.48L291.94,95.15L292.34,95.66A8.00,8.00 0 0 0 303.66,84.34L303.15,83.94L302.48,83.41L301.68,82.78L300.80,82.08L299.85,81.33L298.87,80.56L297.89,79.79L296.95,79.05L296.01,78.32L295.03,77.56L294.02,76.79L293.00,76.00L291.98,75.21L290.97,74.43L290.00,73.67L289.06,72.93L288.17,72.22L287.31,71.53L286.49,70.88L285.70,70.24L284.91,69.60L284.13,68.96L283.34,68.30L282.53,67.60L281.67,66.86L280.80,66.10L279.93,65.33L279.06,64.55L278.19,63.76L277.32,62.96L276.45,62.14L275.59,61.30L274.70,60.42L273.80,59.53L272.90,58.63L272.02,57.73L271.16,56.83L270.34,55.92L269.55,55.01L268.81,54.09L268.09,53.13L267.38,52.13L266.69,51.10L266.03,50.05L265.39,48.99L264.77,47.93L264.19,46.86L263.64,45.80L263.13,44.75L262.65,43.71L262.21,42.68L261.79,41.64L261.41,40.59L261.04,39.53L260.69,38.44L260.36,37.33L260.06,36.19L259.77,35.01L259.51,33.79L259.27,32.55L259.05,31.31L258.84,30.07L258.66,28.86L258.48,27.70L258.33,26.54L258.19,25.32L258.08,24.07L257.97,22.84L257.89,21.69L257.81,20.64L257.75,19.75L257.70,19.07A2.30,2.30 0 0 0 253.10,19.33Z"/><path d="M245.53,52.85L245.96,52.83L246.52,52.81L247.21,52.80L247.99,52.77L248.81,52.74L249.66,52.70L250.49,52.65L251.28,52.58L252.03,52.50L252.76,52.41L253.48,52.31L254.20,52.21L254.91,52.09L255.62,51.98L256.32,51.86L257.02,51.75L257.78,51.62L258.58,51.47L259.41,51.32L260.22,51.18L260.98,51.03L261.67,50.91L262.23,50.80L262.66,50.72A2.80,2.80 0 0 0 261.34,45.28L260.92,45.40L260.36,45.58L259.70,45.78L258.97,46.00L258.20,46.23L257.42,46.46L256.67,46.67L255.98,46.85L255.31,47.03L254.64,47.19L253.97,47.35L253.31,47.51L252.66,47.65L252.01,47.79L251.36,47.91L250.72,48.02L250.04,48.11L249.29,48.20L248.51,48.28L247.72,48.35L246.97,48.42L246.29,48.47L245.71,48.52L245.27,48.55A2.15,2.15 0 0 0 245.53,52.85Z"/><path d="M356.14,49.71L355.95,50.58L355.70,51.72L355.41,53.07L355.08,54.59L354.72,56.21L354.36,57.89L354.00,59.59L353.64,61.24L353.29,62.94L352.93,64.76L352.55,66.65L352.17,68.56L351.78,70.46L351.40,72.28L351.03,73.99L350.66,75.55L350.32,76.99L350.00,78.33L349.71,79.56L349.42,80.69L349.12,81.71L348.81,82.64L348.45,83.48L348.05,84.27L347.60,85.01L347.10,85.70L346.56,86.36L345.98,86.98L345.35,87.58L344.68,88.15L343.96,88.69L343.23,89.20L342.51,89.64L341.77,90.02L341.00,90.36L340.18,90.67L339.34,90.96L338.45,91.23L337.54,91.48L336.63,91.71L335.73,91.90L334.82,92.05L333.88,92.17L332.91,92.28L331.91,92.37L330.90,92.46L329.87,92.54L328.88,92.63L327.87,92.71L326.79,92.77L325.66,92.84L324.53,92.90L323.44,92.96L322.46,93.01L321.60,93.05L320.94,93.09A6.00,6.00 0 0 0 323.06,104.91L323.64,104.73L324.42,104.49L325.38,104.21L326.47,103.89L327.64,103.53L328.83,103.16L330.02,102.77L331.12,102.37L332.14,101.98L333.15,101.57L334.18,101.15L335.22,100.70L336.27,100.23L337.32,99.74L338.36,99.22L339.37,98.69L340.32,98.16L341.26,97.63L342.20,97.07L343.14,96.49L344.07,95.87L345.00,95.22L345.90,94.53L346.77,93.80L347.58,93.07L348.37,92.34L349.17,91.56L349.96,90.73L350.72,89.84L351.45,88.88L352.13,87.85L352.75,86.73L353.28,85.56L353.71,84.38L354.08,83.18L354.39,81.96L354.67,80.72L354.95,79.43L355.23,78.09L355.54,76.65L355.89,75.05L356.25,73.29L356.62,71.43L356.99,69.51L357.36,67.58L357.71,65.68L358.05,63.86L358.36,62.16L358.65,60.49L358.94,58.77L359.22,57.06L359.49,55.41L359.73,53.88L359.94,52.52L360.12,51.37L360.26,50.49A2.10,2.10 0 0 0 356.14,49.71Z"/><path d="M316.46,116.83L317.74,116.86L319.47,116.89L321.50,116.91L323.73,116.94L326.01,116.99L328.23,117.07L330.23,117.19L331.90,117.35L333.30,117.56L334.55,117.80L335.67,118.07L336.68,118.37L337.62,118.70L338.54,119.07L339.48,119.47L340.46,119.92L341.45,120.40L342.41,120.92L343.35,121.48L344.27,122.07L345.20,122.70L346.13,123.37L347.08,124.07L348.03,124.79L348.99,125.56L349.99,126.41L351.03,127.33L352.08,128.29L353.13,129.26L354.18,130.23L355.20,131.15L356.18,131.99L357.07,132.74L357.89,133.43L358.69,134.09L359.48,134.72L360.25,135.32L361.04,135.90L361.84,136.46L362.66,136.99L363.44,137.47L364.20,137.92L364.97,138.34L365.76,138.75L366.58,139.12L367.44,139.47L368.37,139.80L369.36,140.10L370.43,140.38L371.56,140.63L372.72,140.85L373.91,141.04L375.12,141.22L376.34,141.37L377.56,141.51L378.77,141.64L380.07,141.75L381.48,141.84L382.93,141.91L384.36,141.96L385.72,142.01L386.94,142.04L387.95,142.07L388.70,142.10A1.90,1.90 0 0 0 388.90,138.30L388.13,138.25L387.10,138.19L385.90,138.12L384.56,138.04L383.16,137.94L381.77,137.83L380.43,137.70L379.23,137.56L378.07,137.40L376.90,137.24L375.75,137.05L374.61,136.86L373.52,136.64L372.49,136.41L371.52,136.16L370.64,135.90L369.85,135.61L369.13,135.32L368.48,135.01L367.87,134.68L367.27,134.32L366.66,133.93L366.02,133.49L365.34,133.01L364.69,132.52L364.06,132.00L363.42,131.45L362.77,130.86L362.10,130.22L361.39,129.53L360.63,128.79L359.82,128.01L358.99,127.17L358.10,126.24L357.16,125.22L356.17,124.16L355.15,123.08L354.10,122.01L353.04,120.97L351.97,120.01L350.94,119.14L349.92,118.33L348.89,117.56L347.85,116.81L346.80,116.10L345.73,115.41L344.64,114.73L343.54,114.08L342.45,113.47L341.38,112.92L340.30,112.40L339.20,111.89L338.05,111.39L336.84,110.86L335.54,110.29L334.10,109.65L332.39,108.89L330.42,108.01L328.30,107.08L326.15,106.12L324.08,105.20L322.21,104.37L320.66,103.68L319.54,103.17A7.00,7.00 0 0 0 316.46,116.83Z"/><path d="M367.30,138.89L367.81,139.51L368.51,140.34L369.33,141.32L370.24,142.40L371.19,143.54L372.14,144.68L373.04,145.78L373.84,146.79L374.58,147.73L375.31,148.67L376.02,149.59L376.72,150.51L377.40,151.42L378.06,152.32L378.71,153.23L379.35,154.12L379.99,155.06L380.66,156.07L381.33,157.11L381.99,158.14L382.61,159.12L383.16,159.99L383.63,160.74L383.99,161.30A1.90,1.90 0 0 0 387.21,159.30L386.88,158.74L386.43,157.99L385.90,157.10L385.30,156.10L384.65,155.03L383.98,153.95L383.31,152.88L382.65,151.88L382.01,150.93L381.36,149.98L380.70,149.03L380.02,148.08L379.33,147.12L378.62,146.16L377.90,145.19L377.16,144.21L376.35,143.16L375.45,142.01L374.51,140.83L373.57,139.66L372.68,138.56L371.87,137.56L371.20,136.73L370.70,136.11A2.20,2.20 0 0 0 367.30,138.89Z"/><path d="M283,79 C288,77 296,77.3 305,77.4 C314,77.5 322,78.5 327,83 C331,87 333,91 335,97 C335,101 334,105 331,110 C328,120 316,131.5 302,133.6 C288,134 279,126 276,114 C273,104 275,93 280,84 Z"/></g><g fill="#fcab5b"><path d="M253.10,19.33L253.13,19.99L253.15,20.86L253.17,21.92L253.20,23.11L253.25,24.38L253.31,25.70L253.40,27.03L253.52,28.30L253.66,29.54L253.82,30.81L254.00,32.11L254.20,33.43L254.43,34.75L254.67,36.08L254.94,37.39L255.24,38.67L255.55,39.90L255.88,41.11L256.23,42.30L256.61,43.48L257.00,44.66L257.43,45.83L257.88,47.01L258.36,48.20L258.87,49.41L259.40,50.62L259.97,51.84L260.56,53.07L261.18,54.30L261.82,55.51L262.49,56.72L263.19,57.91L263.93,59.10L264.70,60.26L265.49,61.40L266.29,62.52L267.09,63.60L267.88,64.66L268.66,65.69L269.41,66.70L270.18,67.71L270.96,68.73L271.73,69.72L272.50,70.70L273.27,71.65L274.02,72.59L274.75,73.50L275.47,74.40L276.19,75.29L276.89,76.14L277.57,76.96L278.24,77.76L278.91,78.56L279.57,79.37L280.24,80.20L280.94,81.07L281.67,82.00L282.43,82.97L283.21,83.98L284.00,85.00L284.79,86.02L285.56,87.03L286.32,88.01L287.05,88.95L287.79,89.89L288.56,90.87L289.33,91.85L290.08,92.80L290.78,93.68L291.41,94.48L291.94,95.15L292.34,95.66A8.00,8.00 0 0 0 303.66,84.34L303.15,83.94L302.48,83.41L301.68,82.78L300.80,82.08L299.85,81.33L298.87,80.56L297.89,79.79L296.95,79.05L296.01,78.32L295.03,77.56L294.02,76.79L293.00,76.00L291.98,75.21L290.97,74.43L290.00,73.67L289.06,72.93L288.17,72.22L287.31,71.53L286.49,70.88L285.70,70.24L284.91,69.60L284.13,68.96L283.34,68.30L282.53,67.60L281.67,66.86L280.80,66.10L279.93,65.33L279.06,64.55L278.19,63.76L277.32,62.96L276.45,62.14L275.59,61.30L274.70,60.42L273.80,59.53L272.90,58.63L272.02,57.73L271.16,56.83L270.34,55.92L269.55,55.01L268.81,54.09L268.09,53.13L267.38,52.13L266.69,51.10L266.03,50.05L265.39,48.99L264.77,47.93L264.19,46.86L263.64,45.80L263.13,44.75L262.65,43.71L262.21,42.68L261.79,41.64L261.41,40.59L261.04,39.53L260.69,38.44L260.36,37.33L260.06,36.19L259.77,35.01L259.51,33.79L259.27,32.55L259.05,31.31L258.84,30.07L258.66,28.86L258.48,27.70L258.33,26.54L258.19,25.32L258.08,24.07L257.97,22.84L257.89,21.69L257.81,20.64L257.75,19.75L257.70,19.07A2.30,2.30 0 0 0 253.10,19.33Z"/><path d="M245.53,52.85L245.96,52.83L246.52,52.81L247.21,52.80L247.99,52.77L248.81,52.74L249.66,52.70L250.49,52.65L251.28,52.58L252.03,52.50L252.76,52.41L253.48,52.31L254.20,52.21L254.91,52.09L255.62,51.98L256.32,51.86L257.02,51.75L257.78,51.62L258.58,51.47L259.41,51.32L260.22,51.18L260.98,51.03L261.67,50.91L262.23,50.80L262.66,50.72A2.80,2.80 0 0 0 261.34,45.28L260.92,45.40L260.36,45.58L259.70,45.78L258.97,46.00L258.20,46.23L257.42,46.46L256.67,46.67L255.98,46.85L255.31,47.03L254.64,47.19L253.97,47.35L253.31,47.51L252.66,47.65L252.01,47.79L251.36,47.91L250.72,48.02L250.04,48.11L249.29,48.20L248.51,48.28L247.72,48.35L246.97,48.42L246.29,48.47L245.71,48.52L245.27,48.55A2.15,2.15 0 0 0 245.53,52.85Z"/><path d="M356.14,49.71L355.95,50.58L355.70,51.72L355.41,53.07L355.08,54.59L354.72,56.21L354.36,57.89L354.00,59.59L353.64,61.24L353.29,62.94L352.93,64.76L352.55,66.65L352.17,68.56L351.78,70.46L351.40,72.28L351.03,73.99L350.66,75.55L350.32,76.99L350.00,78.33L349.71,79.56L349.42,80.69L349.12,81.71L348.81,82.64L348.45,83.48L348.05,84.27L347.60,85.01L347.10,85.70L346.56,86.36L345.98,86.98L345.35,87.58L344.68,88.15L343.96,88.69L343.23,89.20L342.51,89.64L341.77,90.02L341.00,90.36L340.18,90.67L339.34,90.96L338.45,91.23L337.54,91.48L336.63,91.71L335.73,91.90L334.82,92.05L333.88,92.17L332.91,92.28L331.91,92.37L330.90,92.46L329.87,92.54L328.88,92.63L327.87,92.71L326.79,92.77L325.66,92.84L324.53,92.90L323.44,92.96L322.46,93.01L321.60,93.05L320.94,93.09A6.00,6.00 0 0 0 323.06,104.91L323.64,104.73L324.42,104.49L325.38,104.21L326.47,103.89L327.64,103.53L328.83,103.16L330.02,102.77L331.12,102.37L332.14,101.98L333.15,101.57L334.18,101.15L335.22,100.70L336.27,100.23L337.32,99.74L338.36,99.22L339.37,98.69L340.32,98.16L341.26,97.63L342.20,97.07L343.14,96.49L344.07,95.87L345.00,95.22L345.90,94.53L346.77,93.80L347.58,93.07L348.37,92.34L349.17,91.56L349.96,90.73L350.72,89.84L351.45,88.88L352.13,87.85L352.75,86.73L353.28,85.56L353.71,84.38L354.08,83.18L354.39,81.96L354.67,80.72L354.95,79.43L355.23,78.09L355.54,76.65L355.89,75.05L356.25,73.29L356.62,71.43L356.99,69.51L357.36,67.58L357.71,65.68L358.05,63.86L358.36,62.16L358.65,60.49L358.94,58.77L359.22,57.06L359.49,55.41L359.73,53.88L359.94,52.52L360.12,51.37L360.26,50.49A2.10,2.10 0 0 0 356.14,49.71Z"/><path d="M316.46,116.83L317.74,116.86L319.47,116.89L321.50,116.91L323.73,116.94L326.01,116.99L328.23,117.07L330.23,117.19L331.90,117.35L333.30,117.56L334.55,117.80L335.67,118.07L336.68,118.37L337.62,118.70L338.54,119.07L339.48,119.47L340.46,119.92L341.45,120.40L342.41,120.92L343.35,121.48L344.27,122.07L345.20,122.70L346.13,123.37L347.08,124.07L348.03,124.79L348.99,125.56L349.99,126.41L351.03,127.33L352.08,128.29L353.13,129.26L354.18,130.23L355.20,131.15L356.18,131.99L357.07,132.74L357.89,133.43L358.69,134.09L359.48,134.72L360.25,135.32L361.04,135.90L361.84,136.46L362.66,136.99L363.44,137.47L364.20,137.92L364.97,138.34L365.76,138.75L366.58,139.12L367.44,139.47L368.37,139.80L369.36,140.10L370.43,140.38L371.56,140.63L372.72,140.85L373.91,141.04L375.12,141.22L376.34,141.37L377.56,141.51L378.77,141.64L380.07,141.75L381.48,141.84L382.93,141.91L384.36,141.96L385.72,142.01L386.94,142.04L387.95,142.07L388.70,142.10A1.90,1.90 0 0 0 388.90,138.30L388.13,138.25L387.10,138.19L385.90,138.12L384.56,138.04L383.16,137.94L381.77,137.83L380.43,137.70L379.23,137.56L378.07,137.40L376.90,137.24L375.75,137.05L374.61,136.86L373.52,136.64L372.49,136.41L371.52,136.16L370.64,135.90L369.85,135.61L369.13,135.32L368.48,135.01L367.87,134.68L367.27,134.32L366.66,133.93L366.02,133.49L365.34,133.01L364.69,132.52L364.06,132.00L363.42,131.45L362.77,130.86L362.10,130.22L361.39,129.53L360.63,128.79L359.82,128.01L358.99,127.17L358.10,126.24L357.16,125.22L356.17,124.16L355.15,123.08L354.10,122.01L353.04,120.97L351.97,120.01L350.94,119.14L349.92,118.33L348.89,117.56L347.85,116.81L346.80,116.10L345.73,115.41L344.64,114.73L343.54,114.08L342.45,113.47L341.38,112.92L340.30,112.40L339.20,111.89L338.05,111.39L336.84,110.86L335.54,110.29L334.10,109.65L332.39,108.89L330.42,108.01L328.30,107.08L326.15,106.12L324.08,105.20L322.21,104.37L320.66,103.68L319.54,103.17A7.00,7.00 0 0 0 316.46,116.83Z"/><path d="M367.30,138.89L367.81,139.51L368.51,140.34L369.33,141.32L370.24,142.40L371.19,143.54L372.14,144.68L373.04,145.78L373.84,146.79L374.58,147.73L375.31,148.67L376.02,149.59L376.72,150.51L377.40,151.42L378.06,152.32L378.71,153.23L379.35,154.12L379.99,155.06L380.66,156.07L381.33,157.11L381.99,158.14L382.61,159.12L383.16,159.99L383.63,160.74L383.99,161.30A1.90,1.90 0 0 0 387.21,159.30L386.88,158.74L386.43,157.99L385.90,157.10L385.30,156.10L384.65,155.03L383.98,153.95L383.31,152.88L382.65,151.88L382.01,150.93L381.36,149.98L380.70,149.03L380.02,148.08L379.33,147.12L378.62,146.16L377.90,145.19L377.16,144.21L376.35,143.16L375.45,142.01L374.51,140.83L373.57,139.66L372.68,138.56L371.87,137.56L371.20,136.73L370.70,136.11A2.20,2.20 0 0 0 367.30,138.89Z"/><path d="M283,79 C288,77 296,77.3 305,77.4 C314,77.5 322,78.5 327,83 C331,87 333,91 335,97 C335,101 334,105 331,110 C328,120 316,131.5 302,133.6 C288,134 279,126 276,114 C273,104 275,93 280,84 Z"/></g><circle cx="303.2" cy="103.2" r="13.4" fill="#fdc66f" stroke="#fde0a8" stroke-width="0.9" stroke-opacity="0.6"/></g>
<g fill="none" stroke-linecap="round" stroke-linejoin="round"><path d="M301.10,54.40 L300.75,54.85 L300.22,55.48 L299.61,56.22 L299.04,57.01 L298.60,57.76 L298.40,58.40 L298.53,58.94 L298.93,59.43 L299.47,59.89 L300.01,60.33 L300.43,60.76 L300.60,61.20 L300.44,61.64 L300.03,62.08 L299.50,62.51 L298.97,62.93 L298.56,63.36 L298.40,63.80 L298.56,64.25 L298.97,64.70 L299.50,65.16 L300.03,65.61 L300.44,66.06 L300.60,66.50 L300.43,66.93 L300.02,67.34 L299.49,67.76 L298.96,68.17 L298.55,68.58 L298.40,69.00 L298.56,69.43 L298.94,69.87 L299.45,70.32 L299.99,70.76 L300.47,71.19 L300.80,71.60 L300.96,71.92 L301.04,72.15 L301.05,72.36 L301.03,72.65 L301.00,73.10 L301.00,73.80 L301.01,74.89 L301.01,76.33 L301.01,77.94 L301.01,79.51 L301.00,80.86 L301.00,81.80" stroke="#fff" stroke-width="3.3"/><path d="M303.50,54.40 L303.85,54.85 L304.38,55.48 L304.99,56.22 L305.56,57.01 L306.00,57.76 L306.20,58.40 L306.07,58.94 L305.67,59.43 L305.13,59.89 L304.59,60.33 L304.17,60.76 L304.00,61.20 L304.16,61.64 L304.57,62.08 L305.10,62.51 L305.63,62.93 L306.04,63.36 L306.20,63.80 L306.04,64.25 L305.63,64.70 L305.10,65.16 L304.57,65.61 L304.16,66.06 L304.00,66.50 L304.17,66.93 L304.58,67.34 L305.11,67.76 L305.64,68.17 L306.05,68.58 L306.20,69.00 L306.04,69.43 L305.66,69.87 L305.15,70.32 L304.61,70.76 L304.13,71.19 L303.80,71.60 L303.64,71.92 L303.56,72.15 L303.55,72.36 L303.57,72.65 L303.60,73.10 L303.60,73.80 L303.59,74.89 L303.59,76.33 L303.59,77.94 L303.59,79.51 L303.60,80.86 L303.60,81.80" stroke="#fff" stroke-width="3.3"/><path d="M301.10,54.40 L300.75,54.85 L300.22,55.48 L299.61,56.22 L299.04,57.01 L298.60,57.76 L298.40,58.40 L298.53,58.94 L298.93,59.43 L299.47,59.89 L300.01,60.33 L300.43,60.76 L300.60,61.20 L300.44,61.64 L300.03,62.08 L299.50,62.51 L298.97,62.93 L298.56,63.36 L298.40,63.80 L298.56,64.25 L298.97,64.70 L299.50,65.16 L300.03,65.61 L300.44,66.06 L300.60,66.50 L300.43,66.93 L300.02,67.34 L299.49,67.76 L298.96,68.17 L298.55,68.58 L298.40,69.00 L298.56,69.43 L298.94,69.87 L299.45,70.32 L299.99,70.76 L300.47,71.19 L300.80,71.60 L300.96,71.92 L301.04,72.15 L301.05,72.36 L301.03,72.65 L301.00,73.10 L301.00,73.80 L301.01,74.89 L301.01,76.33 L301.01,77.94 L301.01,79.51 L301.00,80.86 L301.00,81.80" stroke="#000" stroke-width="1.35"/><path d="M303.50,54.40 L303.85,54.85 L304.38,55.48 L304.99,56.22 L305.56,57.01 L306.00,57.76 L306.20,58.40 L306.07,58.94 L305.67,59.43 L305.13,59.89 L304.59,60.33 L304.17,60.76 L304.00,61.20 L304.16,61.64 L304.57,62.08 L305.10,62.51 L305.63,62.93 L306.04,63.36 L306.20,63.80 L306.04,64.25 L305.63,64.70 L305.10,65.16 L304.57,65.61 L304.16,66.06 L304.00,66.50 L304.17,66.93 L304.58,67.34 L305.11,67.76 L305.64,68.17 L306.05,68.58 L306.20,69.00 L306.04,69.43 L305.66,69.87 L305.15,70.32 L304.61,70.76 L304.13,71.19 L303.80,71.60 L303.64,71.92 L303.56,72.15 L303.55,72.36 L303.57,72.65 L303.60,73.10 L303.60,73.80 L303.59,74.89 L303.59,76.33 L303.59,77.94 L303.59,79.51 L303.60,80.86 L303.60,81.80" stroke="#000" stroke-width="1.35"/></g>
<rect x="283.3" y="99.9" width="20.5" height="10.2" fill="#000"/><text x="285" y="108" font-family="Liberation Sans" font-size="8.2" font-weight="bold" font-style="italic" fill="#a0a0a0">SRF</text><path d="M306.1,109.8 V104.5 H320.5" fill="none" stroke="#000" stroke-width="1.2"/><path d="M319.5,102.4 L324,104.5 L319.5,106.6 Z" fill="#000"/><g fill="none" stroke="#000" stroke-width="1.1"><path d="M278.30,116.00 L278.55,116.64 L278.80,117.27 L279.05,117.85 L279.30,118.38 L279.55,118.83 L279.80,119.20 L280.05,119.48 L280.30,119.64 L280.55,119.70 L280.80,119.64 L281.05,119.48 L281.30,119.20 L281.55,118.83 L281.80,118.38 L282.05,117.85 L282.30,117.27 L282.55,116.64 L282.80,116.00 L283.05,115.36 L283.30,114.73 L283.55,114.15 L283.80,113.62 L284.05,113.17 L284.30,112.80 L284.55,112.52 L284.80,112.36 L285.05,112.30 L285.30,112.36 L285.55,112.52 L285.80,112.80 L286.05,113.17 L286.30,113.62 L286.55,114.15 L286.80,114.73 L287.05,115.36 L287.30,116.00 L287.55,116.64 L287.80,117.27 L288.05,117.85 L288.30,118.38 L288.55,118.83 L288.80,119.20 L289.05,119.48 L289.30,119.64 L289.55,119.70 L289.80,119.64 L290.05,119.48 L290.30,119.20 L290.55,118.83 L290.80,118.38 L291.05,117.85 L291.30,117.27 L291.55,116.64 L291.80,116.00 L292.05,115.36 L292.30,114.73 L292.55,114.15 L292.80,113.62 L293.05,113.17 L293.30,112.80 L293.55,112.52 L293.80,112.36 L294.05,112.30 L294.30,112.36 L294.55,112.52 L294.80,112.80 L295.05,113.17 L295.30,113.62 L295.55,114.15 L295.80,114.73 L296.05,115.36 L296.30,116.00 L296.55,116.64 L296.80,117.27 L297.05,117.85 L297.30,118.38 L297.55,118.83 L297.80,119.20 L298.05,119.48 L298.30,119.64 L298.55,119.70 L298.80,119.64 L299.05,119.48 L299.30,119.20 L299.55,118.83 L299.80,118.38 L300.05,117.85 L300.30,117.27 L300.55,116.64 L300.80,116.00 L301.05,115.36 L301.30,114.73 L301.55,114.15 L301.80,113.62 L302.05,113.17 L302.30,112.80 L302.55,112.52 L302.80,112.36 L303.05,112.30 L303.30,112.36 L303.55,112.52 L303.80,112.80 L304.05,113.17 L304.30,113.62 L304.55,114.15 L304.80,114.73 L305.05,115.36 L305.30,116.00 L305.55,116.64 L305.80,117.27 L306.05,117.85 L306.30,118.38 L306.55,118.83 L306.80,119.20 L307.05,119.48 L307.30,119.64 L307.55,119.70 L307.80,119.64 L308.05,119.48 L308.30,119.20 L308.55,118.83 L308.80,118.38 L309.05,117.85 L309.30,117.27 L309.55,116.64 L309.80,116.00 L310.05,115.36 L310.30,114.73 L310.55,114.15 L310.80,113.62 L311.05,113.17 L311.30,112.80 L311.55,112.52 L311.80,112.36 L312.05,112.30 L312.30,112.36 L312.55,112.52 L312.80,112.80 L313.05,113.17 L313.30,113.62 L313.55,114.15 L313.80,114.73 L314.05,115.36 L314.30,116.00 L314.55,116.64 L314.80,117.27 L315.05,117.85 L315.30,118.38 L315.55,118.83 L315.80,119.20 L316.05,119.48 L316.30,119.64 L316.55,119.70 L316.80,119.64 L317.05,119.48 L317.30,119.20 L317.55,118.83 L317.80,118.38 L318.05,117.85 L318.30,117.27 L318.55,116.64 L318.80,116.00 L319.05,115.36 L319.30,114.73 L319.55,114.15 L319.80,113.62 L320.05,113.17 L320.30,112.80 L320.55,112.52 L320.80,112.36 L321.05,112.30 L321.30,112.36 L321.55,112.52 L321.80,112.80 L322.05,113.17 L322.30,113.62 L322.55,114.15 L322.80,114.73 L323.05,115.36 L323.30,116.00 L323.55,116.64 L323.80,117.27 L324.05,117.85 L324.30,118.38 L324.55,118.83 L324.80,119.20 L325.05,119.48 L325.30,119.64 L325.55,119.70 L325.80,119.64 L326.05,119.48"/><path d="M278.30,112.64 L278.55,112.42 L278.80,112.31 L279.05,112.32 L279.30,112.43 L279.55,112.66 L279.80,112.98 L280.05,113.40 L280.30,113.90 L280.55,114.46 L280.80,115.07 L281.05,115.70 L281.30,116.35 L281.55,116.98 L281.80,117.59 L282.05,118.14 L282.30,118.63 L282.55,119.05 L282.80,119.36 L283.05,119.58 L283.30,119.69 L283.55,119.68 L283.80,119.57 L284.05,119.34 L284.30,119.02 L284.55,118.60 L284.80,118.10 L285.05,117.54 L285.30,116.93 L285.55,116.30 L285.80,115.65 L286.05,115.02 L286.30,114.41 L286.55,113.86 L286.80,113.37 L287.05,112.95 L287.30,112.64 L287.55,112.42 L287.80,112.31 L288.05,112.32 L288.30,112.43 L288.55,112.66 L288.80,112.98 L289.05,113.40 L289.30,113.90 L289.55,114.46 L289.80,115.07 L290.05,115.70 L290.30,116.35 L290.55,116.98 L290.80,117.59 L291.05,118.14 L291.30,118.63 L291.55,119.05 L291.80,119.36 L292.05,119.58 L292.30,119.69 L292.55,119.68 L292.80,119.57 L293.05,119.34 L293.30,119.02 L293.55,118.60 L293.80,118.10 L294.05,117.54 L294.30,116.93 L294.55,116.30 L294.80,115.65 L295.05,115.02 L295.30,114.41 L295.55,113.86 L295.80,113.37 L296.05,112.95 L296.30,112.64 L296.55,112.42 L296.80,112.31 L297.05,112.32 L297.30,112.43 L297.55,112.66 L297.80,112.98 L298.05,113.40 L298.30,113.90 L298.55,114.46 L298.80,115.07 L299.05,115.70 L299.30,116.35 L299.55,116.98 L299.80,117.59 L300.05,118.14 L300.30,118.63 L300.55,119.05 L300.80,119.36 L301.05,119.58 L301.30,119.69 L301.55,119.68 L301.80,119.57 L302.05,119.34 L302.30,119.02 L302.55,118.60 L302.80,118.10 L303.05,117.54 L303.30,116.93 L303.55,116.30 L303.80,115.65 L304.05,115.02 L304.30,114.41 L304.55,113.86 L304.80,113.37 L305.05,112.95 L305.30,112.64 L305.55,112.42 L305.80,112.31 L306.05,112.32 L306.30,112.43 L306.55,112.66 L306.80,112.98 L307.05,113.40 L307.30,113.90 L307.55,114.46 L307.80,115.07 L308.05,115.70 L308.30,116.35 L308.55,116.98 L308.80,117.59 L309.05,118.14 L309.30,118.63 L309.55,119.05 L309.80,119.36 L310.05,119.58 L310.30,119.69 L310.55,119.68 L310.80,119.57 L311.05,119.34 L311.30,119.02 L311.55,118.60 L311.80,118.10 L312.05,117.54 L312.30,116.93 L312.55,116.30 L312.80,115.65 L313.05,115.02 L313.30,114.41 L313.55,113.86 L313.80,113.37 L314.05,112.95 L314.30,112.64 L314.55,112.42 L314.80,112.31 L315.05,112.32 L315.30,112.43 L315.55,112.66 L315.80,112.98 L316.05,113.40 L316.30,113.90 L316.55,114.46 L316.80,115.07 L317.05,115.70 L317.30,116.35 L317.55,116.98 L317.80,117.59 L318.05,118.14 L318.30,118.63 L318.55,119.05 L318.80,119.36 L319.05,119.58 L319.30,119.69 L319.55,119.68 L319.80,119.57 L320.05,119.34 L320.30,119.02 L320.55,118.60 L320.80,118.10 L321.05,117.54 L321.30,116.93 L321.55,116.30 L321.80,115.65 L322.05,115.02 L322.30,114.41 L322.55,113.86 L322.80,113.37 L323.05,112.95 L323.30,112.64 L323.55,112.42 L323.80,112.31 L324.05,112.32 L324.30,112.43 L324.55,112.66 L324.80,112.98 L325.05,113.40 L325.30,113.90 L325.55,114.46 L325.80,115.07 L326.05,115.70"/></g><text x="309.3" y="92.1" font-family="Liberation Sans" font-size="8" font-style="italic" fill="#111" stroke="#111" stroke-width="0.15">cytoskeleton</text><text x="309.6" y="99.4" font-family="Liberation Sans" font-size="8" font-style="italic" fill="#111" stroke="#111" stroke-width="0.15">genes</text>
<path d="M281,97.5 L306,111.5 M305,97 L282,111.8" stroke="#d01f1f" stroke-width="2.2"/>
<circle cx="285.6" cy="48.5" r="5.6" fill="#fff"/><circle cx="285.6" cy="48.5" r="4.8" fill="#000"/><circle cx="250.4" cy="113.8" r="5.6" fill="#fff"/><circle cx="250.4" cy="113.8" r="4.8" fill="#000"/><circle cx="337.2" cy="134.2" r="5.6" fill="#fff"/><circle cx="337.2" cy="134.2" r="4.8" fill="#000"/>
<text transform="translate(280.60,38.80) scale(1.000,1)" font-family="Liberation Sans" font-size="11.00" font-weight="bold" font-style="italic" fill="#000" stroke="#fff" stroke-width="1.8" stroke-linejoin="round" paint-order="stroke">Fgf17</text>
<path d="M285.9,140.6 C285.9,150.5 292,155.3 299.5,155.3 C307.5,155.3 312.5,150.5 315.6,143.2" fill="none" stroke="#fff" stroke-width="5.8"/><path d="M311.4,143.6 L316.5,135.6 L321.2,143.2 Z" fill="#fff" stroke="#fff" stroke-width="1.8" stroke-linejoin="round"/><path d="M285.9,140.6 C285.9,150.5 292,155.3 299.5,155.3 C307.5,155.3 312.5,150.5 315.6,143.2" fill="none" stroke="#fbae62" stroke-width="4.0"/><path d="M311.4,143.6 L316.5,135.6 L321.2,143.2 Z" fill="#fbae62"/>
<text transform="translate(261.50,169.10) scale(1.045,1)" font-family="Liberation Sans" font-size="13.20" font-weight="bold" fill="#000" stroke="#fff" stroke-width="1.8" stroke-linejoin="round" paint-order="stroke">proliferation</text>
<path d="M293,147.3 L309,162.5 M309,147.3 L295.3,161.8" stroke="#d01f1f" stroke-width="2.4"/>
</g>
<text transform="translate(373.40,313.70) scale(1.035,1)" font-family="Liberation Sans" font-size="10.60" font-weight="bold" fill="#000" stroke="#fff" stroke-width="1.8" stroke-linejoin="round" paint-order="stroke">oligodendrogenesis</text>
<path d="M372.6,324 H474" stroke="#fcab5b" stroke-width="2.2"/><path d="M472.5,320.2 L478,324 L472.5,327.8 Z" fill="#fcab5b"/>
<g transform="translate(526.7,303.2) scale(0.715) translate(-526.9,-69.7)"><g fill="none" stroke="#fff" stroke-width="4.6" stroke-linecap="round"><path d="M498.8,31 C499,40 503,44 510,49 C517,54 522,59 526.9,69.7"/><path d="M526.9,69.7 C531,64 538,59 550,56 C565,53.5 580,53 587,50 C592,47 591.7,40 591.7,31"/><path d="M526.9,69.7 C531,75 540,79 556,79.8 C575,80.3 588,80 591,86 C592,90 591.7,95 591.7,99.6"/><path d="M526.9,69.7 C521,80 515,96 503,110 C492,121 470,128 460,140 C453,149 451.5,158 451.5,168.2"/><path d="M526.9,69.7 C521,82 524,100 535,120 C544,134 546,148 545.6,168.2"/></g><g fill="none" stroke="#f9aa4c" stroke-width="2.4" stroke-linecap="round"><path d="M498.8,31 C499,40 503,44 510,49 C517,54 522,59 526.9,69.7"/><path d="M526.9,69.7 C531,64 538,59 550,56 C565,53.5 580,53 587,50 C592,47 591.7,40 591.7,31"/><path d="M526.9,69.7 C531,75 540,79 556,79.8 C575,80.3 588,80 591,86 C592,90 591.7,95 591.7,99.6"/><path d="M526.9,69.7 C521,80 515,96 503,110 C492,121 470,128 460,140 C453,149 451.5,158 451.5,168.2"/><path d="M526.9,69.7 C521,82 524,100 535,120 C544,134 546,148 545.6,168.2"/></g><g fill="none" stroke="#de3b1b" stroke-width="1.7" stroke-dasharray="2.6 2.8"><path d="M498.8,31 C499,40 503,44 510,49 C517,54 522,59 526.9,69.7"/><path d="M526.9,69.7 C531,64 538,59 550,56 C565,53.5 580,53 587,50 C592,47 591.7,40 591.7,31"/><path d="M526.9,69.7 C531,75 540,79 556,79.8 C575,80.3 588,80 591,86 C592,90 591.7,95 591.7,99.6"/><path d="M526.9,69.7 C521,80 515,96 503,110 C492,121 470,128 460,140 C453,149 451.5,158 451.5,168.2"/><path d="M526.9,69.7 C521,82 524,100 535,120 C544,134 546,148 545.6,168.2"/></g><path d="M480.4,30.9 H516.0" stroke="#fff" stroke-width="7.6" stroke-linecap="round"/><path d="M573.4,30.9 H609.5" stroke="#fff" stroke-width="7.6" stroke-linecap="round"/><path d="M573.4,99.6 H609.5" stroke="#fff" stroke-width="7.6" stroke-linecap="round"/><path d="M434.0,168.2 H469.0" stroke="#fff" stroke-width="7.6" stroke-linecap="round"/><path d="M527.4,168.2 H562.2" stroke="#fff" stroke-width="7.6" stroke-linecap="round"/><path d="M480.4,30.9 H516.0" stroke="#fdbb48" stroke-width="5.3" stroke-linecap="round"/><path d="M479.9,30.9 H517.0" stroke="#de3b1b" stroke-width="5.3" stroke-dasharray="2.0 2.1"/><path d="M573.4,30.9 H609.5" stroke="#fdbb48" stroke-width="5.3" stroke-linecap="round"/><path d="M572.9,30.9 H610.5" stroke="#de3b1b" stroke-width="5.3" stroke-dasharray="2.0 2.1"/><path d="M573.4,99.6 H609.5" stroke="#fdbb48" stroke-width="5.3" stroke-linecap="round"/><path d="M572.9,99.6 H610.5" stroke="#de3b1b" stroke-width="5.3" stroke-dasharray="2.0 2.1"/><path d="M434.0,168.2 H469.0" stroke="#fdbb48" stroke-width="5.3" stroke-linecap="round"/><path d="M433.5,168.2 H470.0" stroke="#de3b1b" stroke-width="5.3" stroke-dasharray="2.0 2.1"/><path d="M527.4,168.2 H562.2" stroke="#fdbb48" stroke-width="5.3" stroke-linecap="round"/><path d="M526.9,168.2 H563.2" stroke="#de3b1b" stroke-width="5.3" stroke-dasharray="2.0 2.1"/><rect x="522.6" y="62.6" width="8" height="14" rx="2.5" fill="#fff"/><rect x="523.4" y="63.2" width="6.8" height="12.8" rx="2" fill="#fdbb48"/><path d="M525,63.5 V75.8 M527.8,63 V76.3" stroke="#de3b1b" stroke-width="1.6"/></g>
<path d="M413,242 V183" stroke="#fff" stroke-width="7.2"/><path d="M406.8,185 L413,174.7 L419.2,185 Z" fill="#fff" stroke="#fff" stroke-width="2" stroke-linejoin="round"/>
<path d="M413,242 V183" stroke="#f9a24e" stroke-width="5.2"/><path d="M406.8,185 L413,174.7 L419.2,185 Z" fill="#f9a24e"/>
<path d="M443.6,176.8 V234" stroke="#fff" stroke-width="7.2"/><path d="M437.1,233.4 L443.6,243.8 L450.1,233.4 Z" fill="#fff" stroke="#fff" stroke-width="2" stroke-linejoin="round"/>
<path d="M443.6,176.8 V234" stroke="#2b9ab5" stroke-width="5.2"/><path d="M437.1,233.4 L443.6,243.8 L450.1,233.4 Z" fill="#2b9ab5"/>
<text transform="translate(403.80,207.00) scale(1.045,1)" text-anchor="end" font-family="Liberation Sans" font-size="13.20" font-weight="bold" fill="#000">young CSF or</text>
<text transform="translate(404.00,226.00) scale(1.045,1)" text-anchor="end" font-family="Liberation Sans" font-size="13.20" font-weight="bold" fill="#000">Fgf17 infusion</text>
<text transform="translate(454.00,214.10) scale(1.045,1)" font-family="Liberation Sans" font-size="13.20" font-weight="bold" fill="#000">Fgf17 blockade</text>
<text transform="translate(25.00,105.00) scale(1.060,1)" font-family="Liberation Sans" font-size="13.20" font-weight="bold" font-style="italic" fill="#000">efficient</text>
<text transform="translate(33.50,124.60) scale(1.060,1)" font-family="Liberation Sans" font-size="13.20" font-weight="bold" font-style="italic" fill="#000">recall</text>
<path d="M86.9,135.6 H63.5 C56,135.6 52.2,139.5 52.2,147 V163" fill="none" stroke="#2b9ab5" stroke-width="5.2"/>
<path d="M45.4,162.2 L57.8,162.2 L51.7,172.7 Z" fill="#2b9ab5"/>
<g fill="#9dcbd8"><circle cx="47" cy="199" r="17.5"/><circle cx="77" cy="203" r="18"/><circle cx="30" cy="218" r="18.5"/><circle cx="88" cy="216" r="18"/><circle cx="56" cy="222" r="19.5"/><circle cx="80" cy="222" r="14"/><circle cx="62" cy="208" r="16"/></g><text transform="translate(35.20,205.10) scale(1.045,1)" font-family="Liberation Sans" font-size="13.20" font-weight="bold" fill="#fff">remote</text><text transform="translate(31.40,225.30) scale(1.035,1)" font-family="Liberation Sans" font-size="13.20" font-weight="bold" fill="#fff">memory</text>
<path d="M87,288.1 H62 C55.5,288.1 51.5,283 51.5,276 V262" fill="none" stroke="#fba24f" stroke-width="5.2"/>
<path d="M45.6,261.5 L57.6,261.5 L51.4,251 Z" fill="#fba24f"/>
<path d="M41,263 L61.8,283.7 M61.8,263 L41,283.7" stroke="#c8161d" stroke-width="2.6"/>
<text transform="translate(19.50,308.10) scale(1.060,1)" font-family="Liberation Sans" font-size="13.20" font-weight="bold" font-style="italic" fill="#000">inefficient</text>
<text transform="translate(34.50,327.80) scale(1.060,1)" font-family="Liberation Sans" font-size="13.20" font-weight="bold" font-style="italic" fill="#000">recall</text>
<text transform="translate(109.00,171.50) scale(1.045,1)" font-family="Liberation Sans" font-size="13.20" font-weight="bold" fill="#000">young mouse</text>
<text transform="translate(113.00,395.40) scale(1.045,1)" font-family="Liberation Sans" font-size="13.20" font-weight="bold" fill="#000">aged mouse</text>
</svg>
</body></html>
